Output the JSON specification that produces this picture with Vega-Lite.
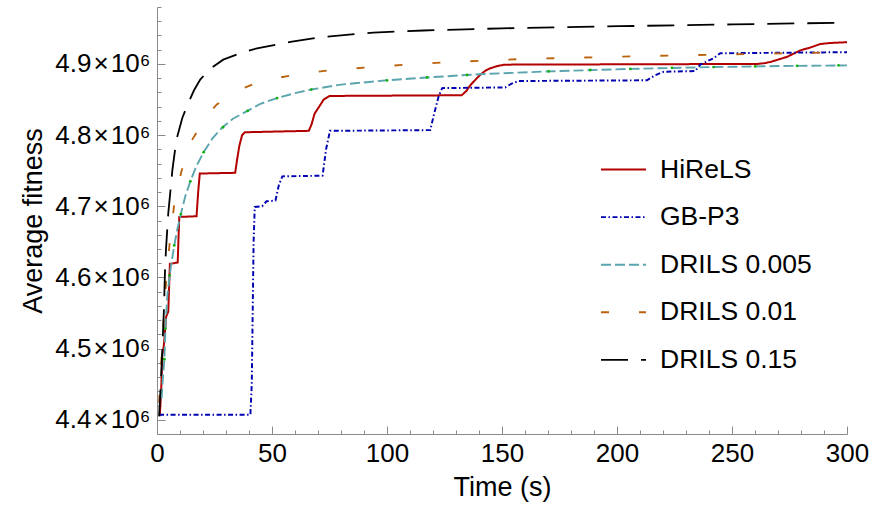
{
  "$schema": "https://vega.github.io/schema/vega-lite/v6.json",
  "width": 690,
  "height": 427,
  "autosize": "none",
  "padding": {"left": 157, "top": 7, "right": 38, "bottom": 74},
  "config": {
    "font": "Liberation Sans",
    "view": {"stroke": null},
    "axis": {
      "grid": false,
      "domainColor": "#8a8a8a",
      "tickColor": "#8a8a8a",
      "domainWidth": 1,
      "tickWidth": 1,
      "labelColor": "black",
      "titleColor": "black",
      "labelFont": "Liberation Sans",
      "titleFont": "Liberation Sans",
      "labelFontSize": 26,
      "titleFontSize": 27,
      "titleFontWeight": "normal",
      "labelOverlap": false
    }
  },
  "resolve": {"axis": {"x": "independent", "y": "independent"}},
  "datasets": {
    "lines": [
      {"series": "HiReLS", "t": 1.2, "v": 4405000},
      {"series": "HiReLS", "t": 1.8, "v": 4440000},
      {"series": "HiReLS", "t": 2.3, "v": 4490000},
      {"series": "HiReLS", "t": 3.0, "v": 4505000},
      {"series": "HiReLS", "t": 4.0, "v": 4545000},
      {"series": "HiReLS", "t": 4.9, "v": 4552000},
      {"series": "HiReLS", "t": 5.3, "v": 4590000},
      {"series": "HiReLS", "t": 5.6, "v": 4619000},
      {"series": "HiReLS", "t": 9.0, "v": 4621000},
      {"series": "HiReLS", "t": 9.4, "v": 4660000},
      {"series": "HiReLS", "t": 9.7, "v": 4685000},
      {"series": "HiReLS", "t": 17.2, "v": 4686000},
      {"series": "HiReLS", "t": 17.9, "v": 4720000},
      {"series": "HiReLS", "t": 18.6, "v": 4746000},
      {"series": "HiReLS", "t": 34.0, "v": 4747000},
      {"series": "HiReLS", "t": 34.8, "v": 4765000},
      {"series": "HiReLS", "t": 35.8, "v": 4785000},
      {"series": "HiReLS", "t": 37.0, "v": 4800000},
      {"series": "HiReLS", "t": 38.2, "v": 4804000},
      {"series": "HiReLS", "t": 66.0, "v": 4806000},
      {"series": "HiReLS", "t": 67.2, "v": 4815000},
      {"series": "HiReLS", "t": 68.5, "v": 4830000},
      {"series": "HiReLS", "t": 70.5, "v": 4840000},
      {"series": "HiReLS", "t": 72.5, "v": 4850000},
      {"series": "HiReLS", "t": 75.0, "v": 4855000},
      {"series": "HiReLS", "t": 132.5, "v": 4856000},
      {"series": "HiReLS", "t": 134.5, "v": 4862000},
      {"series": "HiReLS", "t": 136.2, "v": 4870000},
      {"series": "HiReLS", "t": 138.5, "v": 4878000},
      {"series": "HiReLS", "t": 140.6, "v": 4885000},
      {"series": "HiReLS", "t": 143.0, "v": 4891000},
      {"series": "HiReLS", "t": 145.0, "v": 4894000},
      {"series": "HiReLS", "t": 148.0, "v": 4897000},
      {"series": "HiReLS", "t": 151.0, "v": 4899000},
      {"series": "HiReLS", "t": 261.0, "v": 4900000},
      {"series": "HiReLS", "t": 264.0, "v": 4901000},
      {"series": "HiReLS", "t": 267.0, "v": 4903000},
      {"series": "HiReLS", "t": 270.0, "v": 4906000},
      {"series": "HiReLS", "t": 274.0, "v": 4910000},
      {"series": "HiReLS", "t": 279.7, "v": 4919000},
      {"series": "HiReLS", "t": 284.0, "v": 4923000},
      {"series": "HiReLS", "t": 288.4, "v": 4928000},
      {"series": "HiReLS", "t": 293.0, "v": 4929500},
      {"series": "HiReLS", "t": 300.0, "v": 4930500},

      {"series": "GB-P3", "t": 0.9, "v": 4407000},
      {"series": "GB-P3", "t": 40.6, "v": 4407000},
      {"series": "GB-P3", "t": 41.2, "v": 4450000},
      {"series": "GB-P3", "t": 41.6, "v": 4550000},
      {"series": "GB-P3", "t": 42.0, "v": 4650000},
      {"series": "GB-P3", "t": 42.5, "v": 4699000},
      {"series": "GB-P3", "t": 45.7, "v": 4700000},
      {"series": "GB-P3", "t": 47.6, "v": 4707000},
      {"series": "GB-P3", "t": 51.5, "v": 4708000},
      {"series": "GB-P3", "t": 53.0, "v": 4730000},
      {"series": "GB-P3", "t": 54.5, "v": 4742000},
      {"series": "GB-P3", "t": 72.0, "v": 4743000},
      {"series": "GB-P3", "t": 73.5, "v": 4780000},
      {"series": "GB-P3", "t": 75.2, "v": 4806000},
      {"series": "GB-P3", "t": 118.8, "v": 4807000},
      {"series": "GB-P3", "t": 120.5, "v": 4830000},
      {"series": "GB-P3", "t": 122.5, "v": 4855000},
      {"series": "GB-P3", "t": 124.0, "v": 4866000},
      {"series": "GB-P3", "t": 151.4, "v": 4867000},
      {"series": "GB-P3", "t": 154.0, "v": 4872000},
      {"series": "GB-P3", "t": 157.2, "v": 4876000},
      {"series": "GB-P3", "t": 213.0, "v": 4877000},
      {"series": "GB-P3", "t": 216.5, "v": 4884000},
      {"series": "GB-P3", "t": 220.3, "v": 4889000},
      {"series": "GB-P3", "t": 234.0, "v": 4890000},
      {"series": "GB-P3", "t": 236.2, "v": 4899000},
      {"series": "GB-P3", "t": 240.0, "v": 4905000},
      {"series": "GB-P3", "t": 242.0, "v": 4908000},
      {"series": "GB-P3", "t": 244.9, "v": 4915000},
      {"series": "GB-P3", "t": 300.0, "v": 4916500},

      {"series": "DRILS 0.005", "t": 2.0, "v": 4430000},
      {"series": "DRILS 0.005", "t": 2.5, "v": 4456000},
      {"series": "DRILS 0.005", "t": 3.2, "v": 4485000},
      {"series": "DRILS 0.005", "t": 3.7, "v": 4531000},
      {"series": "DRILS 0.005", "t": 4.5, "v": 4575000},
      {"series": "DRILS 0.005", "t": 5.9, "v": 4612000},
      {"series": "DRILS 0.005", "t": 7.4, "v": 4643000},
      {"series": "DRILS 0.005", "t": 8.8, "v": 4667000},
      {"series": "DRILS 0.005", "t": 10.3, "v": 4688000},
      {"series": "DRILS 0.005", "t": 12.3, "v": 4714000},
      {"series": "DRILS 0.005", "t": 14.6, "v": 4736000},
      {"series": "DRILS 0.005", "t": 17.2, "v": 4757000},
      {"series": "DRILS 0.005", "t": 20.3, "v": 4776000},
      {"series": "DRILS 0.005", "t": 24.0, "v": 4795000},
      {"series": "DRILS 0.005", "t": 28.5, "v": 4811000},
      {"series": "DRILS 0.005", "t": 33.0, "v": 4823000},
      {"series": "DRILS 0.005", "t": 39.3, "v": 4834000},
      {"series": "DRILS 0.005", "t": 45.0, "v": 4844000},
      {"series": "DRILS 0.005", "t": 52.2, "v": 4852000},
      {"series": "DRILS 0.005", "t": 60.0, "v": 4859000},
      {"series": "DRILS 0.005", "t": 67.0, "v": 4864000},
      {"series": "DRILS 0.005", "t": 80.0, "v": 4871000},
      {"series": "DRILS 0.005", "t": 100.0, "v": 4877000},
      {"series": "DRILS 0.005", "t": 117.4, "v": 4881000},
      {"series": "DRILS 0.005", "t": 140.0, "v": 4885500},
      {"series": "DRILS 0.005", "t": 170.0, "v": 4889500},
      {"series": "DRILS 0.005", "t": 205.8, "v": 4893000},
      {"series": "DRILS 0.005", "t": 240.0, "v": 4895500},
      {"series": "DRILS 0.005", "t": 270.0, "v": 4897000},
      {"series": "DRILS 0.005", "t": 300.0, "v": 4898000},

      {"series": "DRILS 0.01", "t": 0.9, "v": 4424000},
      {"series": "DRILS 0.01", "t": 2.0, "v": 4490000},
      {"series": "DRILS 0.01", "t": 3.0, "v": 4545000},
      {"series": "DRILS 0.01", "t": 4.0, "v": 4597000},
      {"series": "DRILS 0.01", "t": 5.5, "v": 4648000},
      {"series": "DRILS 0.01", "t": 7.4, "v": 4700000},
      {"series": "DRILS 0.01", "t": 10.6, "v": 4749000},
      {"series": "DRILS 0.01", "t": 15.0, "v": 4792000},
      {"series": "DRILS 0.01", "t": 21.9, "v": 4828000},
      {"series": "DRILS 0.01", "t": 26.0, "v": 4843000},
      {"series": "DRILS 0.01", "t": 31.1, "v": 4854000},
      {"series": "DRILS 0.01", "t": 37.0, "v": 4865000},
      {"series": "DRILS 0.01", "t": 43.7, "v": 4874000},
      {"series": "DRILS 0.01", "t": 50.0, "v": 4879000},
      {"series": "DRILS 0.01", "t": 58.7, "v": 4884000},
      {"series": "DRILS 0.01", "t": 74.6, "v": 4891000},
      {"series": "DRILS 0.01", "t": 91.3, "v": 4895000},
      {"series": "DRILS 0.01", "t": 108.0, "v": 4899000},
      {"series": "DRILS 0.01", "t": 123.9, "v": 4902000},
      {"series": "DRILS 0.01", "t": 159.4, "v": 4907000},
      {"series": "DRILS 0.01", "t": 211.6, "v": 4911000},
      {"series": "DRILS 0.01", "t": 265.0, "v": 4914500},
      {"series": "DRILS 0.01", "t": 300.0, "v": 4916500},

      {"series": "DRILS 0.15", "t": 0.9, "v": 4405000},
      {"series": "DRILS 0.15", "t": 1.6, "v": 4447000},
      {"series": "DRILS 0.15", "t": 2.3, "v": 4498000},
      {"series": "DRILS 0.15", "t": 3.0, "v": 4554000},
      {"series": "DRILS 0.15", "t": 3.5, "v": 4611000},
      {"series": "DRILS 0.15", "t": 3.9, "v": 4639000},
      {"series": "DRILS 0.15", "t": 4.9, "v": 4690000},
      {"series": "DRILS 0.15", "t": 6.7, "v": 4751000},
      {"series": "DRILS 0.15", "t": 8.4, "v": 4793000},
      {"series": "DRILS 0.15", "t": 11.0, "v": 4824000},
      {"series": "DRILS 0.15", "t": 13.2, "v": 4842000},
      {"series": "DRILS 0.15", "t": 16.1, "v": 4863000},
      {"series": "DRILS 0.15", "t": 18.8, "v": 4878000},
      {"series": "DRILS 0.15", "t": 23.0, "v": 4893000},
      {"series": "DRILS 0.15", "t": 28.8, "v": 4906000},
      {"series": "DRILS 0.15", "t": 36.2, "v": 4915000},
      {"series": "DRILS 0.15", "t": 43.5, "v": 4922000},
      {"series": "DRILS 0.15", "t": 58.0, "v": 4931000},
      {"series": "DRILS 0.15", "t": 72.3, "v": 4938000},
      {"series": "DRILS 0.15", "t": 94.0, "v": 4944000},
      {"series": "DRILS 0.15", "t": 115.8, "v": 4947000},
      {"series": "DRILS 0.15", "t": 150.0, "v": 4950000},
      {"series": "DRILS 0.15", "t": 201.0, "v": 4953000},
      {"series": "DRILS 0.15", "t": 250.0, "v": 4955500},
      {"series": "DRILS 0.15", "t": 300.0, "v": 4958000}
    ],
    "dots": [
      {"t": 3.2, "v": 4485000},
      {"t": 3.6, "v": 4528000},
      {"t": 5.5, "v": 4603000},
      {"t": 7.5, "v": 4645000},
      {"t": 10.4, "v": 4689000},
      {"t": 14.5, "v": 4735000},
      {"t": 20.3, "v": 4776000},
      {"t": 28.7, "v": 4811000},
      {"t": 39.4, "v": 4834000},
      {"t": 52.2, "v": 4852000},
      {"t": 67.1, "v": 4864000},
      {"t": 100.0, "v": 4877000},
      {"t": 117.4, "v": 4881000},
      {"t": 134.8, "v": 4884500},
      {"t": 170.3, "v": 4889500},
      {"t": 188.4, "v": 4891500},
      {"t": 205.8, "v": 4893000},
      {"t": 223.9, "v": 4894500},
      {"t": 242.0, "v": 4895600},
      {"t": 260.1, "v": 4896500},
      {"t": 278.3, "v": 4897300},
      {"t": 296.3, "v": 4898000}
    ]
  },
  "layer": [
    {
      "data": {"name": "lines"},
      "mark": {"type": "line", "interpolate": "linear", "clip": true},
      "encoding": {
        "x": {
          "field": "t", "type": "quantitative",
          "scale": {"domain": [0, 300], "nice": false, "zero": false},
          "axis": {
            "orient": "bottom",
            "title": "Time (s)",
            "values": [0, 50, 100, 150, 200, 250, 300],
            "format": "d",
            "labelFlush": false,
            "tickSize": -8,
            "labelPadding": 14,
            "titlePadding": 8
          }
        },
        "y": {
          "field": "v", "type": "quantitative",
          "scale": {"domain": [4380000, 4980000], "nice": false, "zero": false},
          "axis": {
            "orient": "left",
            "title": "Average fitness",
            "values": [4400000, 4500000, 4600000, 4700000, 4800000, 4900000],
            "labelExpr": "format(datum.value / 1000000, '.1f') + '\u200a×\u200a10⁶'",
            "labelFlush": false,
            "tickSize": -8,
            "labelPadding": 15,
            "titlePadding": 7
          }
        },
        "color": {
          "field": "series", "type": "nominal",
          "scale": {
            "domain": ["HiReLS", "GB-P3", "DRILS 0.005", "DRILS 0.01", "DRILS 0.15"],
            "range": ["#b30000", "#0000b0", "#5ba5ae", "#bb620c", "#000000"]
          },
          "legend": {
            "title": null,
            "orient": "none",
            "legendX": 443,
            "legendY": 139,
            "symbolType": "stroke",
            "symbolSize": 2025,
            "labelFontSize": 26.5,
            "labelFont": "Liberation Sans",
            "labelColor": "black",
            "labelOffset": 13,
            "rowPadding": 10.6
          }
        },
        "strokeDash": {
          "field": "series", "type": "nominal",
          "scale": {
            "domain": ["HiReLS", "GB-P3", "DRILS 0.005", "DRILS 0.01", "DRILS 0.15"],
            "range": [[1, 0], [5, 2.5, 1.5, 2.5], [10, 4], [8, 30], [27, 13]]
          }
        },
        "strokeWidth": {
          "field": "series", "type": "nominal",
          "scale": {
            "domain": ["HiReLS", "GB-P3", "DRILS 0.005", "DRILS 0.01", "DRILS 0.15"],
            "range": [2, 1.8, 3.2, 3.6, 4]
          }
        }
      }
    },
    {
      "data": {"name": "dots"},
      "mark": {"type": "point", "filled": true, "color": "#10b010", "size": 8, "opacity": 1},
      "encoding": {
        "x": {
          "field": "t", "type": "quantitative",
          "axis": {
            "orient": "bottom",
            "title": null,
            "labels": false,
            "domain": false,
            "tickSize": -4,
            "values": [10, 20, 30, 40, 60, 70, 80, 90, 110, 120, 130, 140, 160, 170, 180, 190, 210, 220, 230, 240, 260, 270, 280, 290]
          }
        },
        "y": {
          "field": "v", "type": "quantitative",
          "axis": {
            "orient": "left",
            "title": null,
            "labels": false,
            "domain": false,
            "tickSize": -4,
            "values": [4380000, 4420000, 4440000, 4460000, 4480000, 4520000, 4540000, 4560000, 4580000, 4620000, 4640000, 4660000, 4680000, 4720000, 4740000, 4760000, 4780000, 4820000, 4840000, 4860000, 4880000, 4920000, 4940000, 4960000, 4980000]
          }
        }
      }
    }
  ]
}
